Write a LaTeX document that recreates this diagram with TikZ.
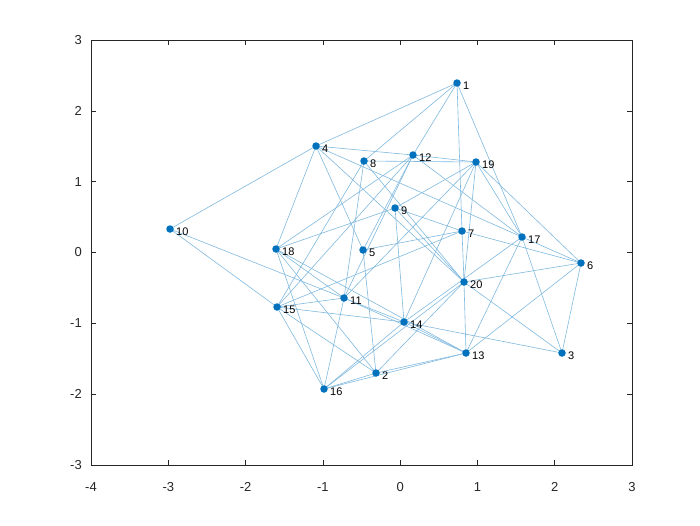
\documentclass[tikz,border=0pt]{standalone}
\usepackage{fontspec}
\setmainfont{Liberation Sans}
\usetikzlibrary{backgrounds}
\definecolor{mblue}{RGB}{0,114,189}
\definecolor{eblue}{RGB}{128,185,222}
\definecolor{axc}{RGB}{38,38,38}
\begin{document}
\begin{tikzpicture}[x=1pt,y=-1pt,
  vtx/.style={circle,fill=mblue,inner sep=0pt,minimum size=7.5pt},
  edgeline/.style={draw=eblue,line width=0.6pt},
  lbl/.style={font=\fontsize{11}{11}\selectfont,anchor=west,inner sep=0pt},
  axline/.style={draw=axc,line width=0.6pt},
  ticklbl/.style={font=\fontsize{13}{13}\selectfont,text=axc,inner sep=0pt}]
\useasboundingbox (0,0) rectangle (700,525);
% axes box
\draw[axline] (91,40) rectangle (632,465);
\foreach \k/\t in {0/-4,1/-3,2/-2,3/-1,4/0,5/1,6/2,7/3}{
  \pgfmathsetmacro{\xx}{91+\k*77.2857}
  \draw[axline] (\xx,465) -- (\xx,460);
  \draw[axline] (\xx,40) -- (\xx,45);
  \node[ticklbl,anchor=north] (xt\k) at (\xx,482) {\t};
}
\foreach \k/\t in {0/-3,1/-2,2/-1,3/0,4/1,5/2,6/3}{
  \pgfmathsetmacro{\yy}{465-\k*70.8333}
  \draw[axline] (91,\yy) -- (96,\yy);
  \draw[axline] (632,\yy) -- (627,\yy);
  \node[ticklbl,anchor=east] (yt\k) at (82,\yy) {\t};
}
% vertices
\foreach \i/\x/\y in {1/457/83,2/376/373,3/562/353,4/316/146,5/363/250,6/581/263,7/462/231,8/364/161,9/395/208,10/170/229,11/344/298,12/413/155,13/466/353,14/404/322,15/277/307,16/324/389,17/522/237,18/276/249,19/476/162,20/464/282}{
  \node[vtx] (n\i) at (\x,\y) {};
  \node[lbl] (l\i) at (\x+6,\y+2.5) {\i};
}
\begin{pgfonlayer}{background}
\foreach \a/\b in {1/4,1/8,1/12,1/7,1/17,
  4/10,4/12,4/18,4/5,4/20,4/6,
  8/19,8/15,8/20,8/11,
  12/19,12/5,12/11,12/17,12/18,12/15,
  19/17,19/6,19/9,19/20,19/14,19/11,
  9/7,9/18,9/14,9/20,
  7/6,7/20,7/5,7/15,
  17/3,17/13,17/14,
  6/20,6/3,6/13,
  20/13,20/3,20/16,20/2,
  14/3,14/15,14/16,14/13,14/11,
  13/2,13/16,13/11,13/18,
  2/16,2/5,2/15,2/18,
  16/15,16/18,16/11,
  11/15,11/18,10/11,10/15}{
  \draw[edgeline] (n\a.center) -- (n\b.center);
}
\end{pgfonlayer}
\end{tikzpicture}
\end{document}
